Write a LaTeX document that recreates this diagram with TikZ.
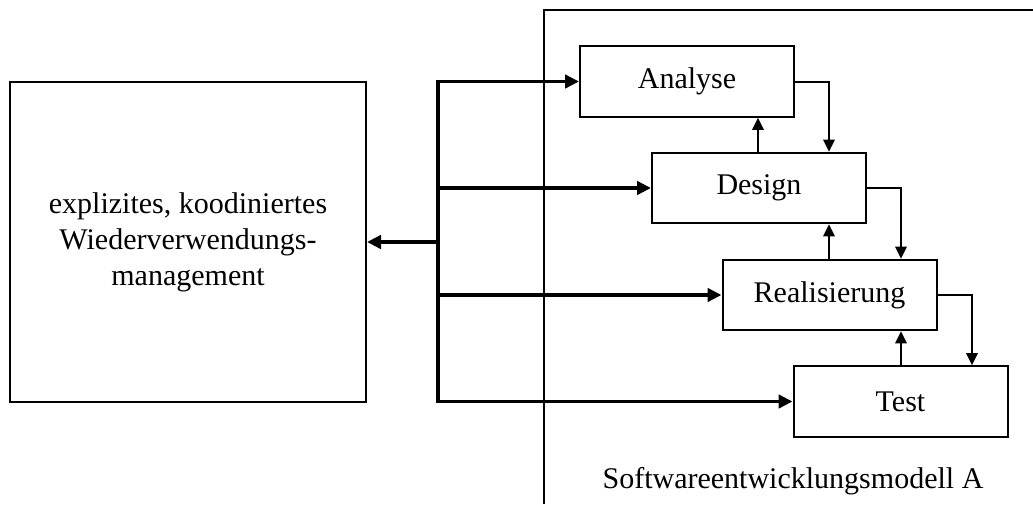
\documentclass[tikz,border=0pt]{standalone}
\usepackage{fontspec}
\setmainfont{Liberation Serif}
\usetikzlibrary{arrows.meta}
\begin{document}
\begin{tikzpicture}[x=0.75pt,y=-0.75pt,
  every node/.style={font=\fontsize{22.5}{27}\selectfont},
  phase/.style={draw,line width=1.5pt,minimum width=160.5pt,minimum height=53pt,inner sep=0pt},
  bigbox/.style={draw,line width=1.5pt,minimum width=267pt,minimum height=240pt,inner sep=0pt,align=center},
  thick arrow/.style={line width=2.6pt,-{Triangle[length=10.5pt,width=10pt]}},
  thin arrow/.style={line width=1.5pt,-{Triangle[length=9pt,width=8.5pt]}},
  frame/.style={line width=1.5pt}]
\useasboundingbox (0,0) rectangle (1033,504);
\draw[frame] (544,504) -- (544,10) -- (1040,10);
\node[bigbox] (wm) at (188,242) {explizites, koodiniertes\\Wiederverwendungs-\\management};
\node[phase] (an) at (687,81.5) {Analyse};
\node[phase] (de) at (759,188) {Design};
\node[phase] (re) at (829.5,295) {Realisierung};
\node[phase] (te) at (900.5,401.5) {Test};
\node[anchor=base] (lab) at (793,488) {Softwareentwicklungsmodell A};
\coordinate (bt) at (438,81.5);
\coordinate (bb) at (438,401.5);
\coordinate (bm) at (438,242);
\coordinate (bd) at (438,188);
\coordinate (br) at (438,295);
\draw[line width=2.6pt,line cap=rect] (bt) -- (bb);
\draw[thick arrow] (bt) -- (an.west);
\draw[thick arrow] (bd) -- (de.west);
\draw[thick arrow] (br) -- (re.west);
\draw[thick arrow] (bb) -- (te.west);
\draw[thick arrow] (bm) -- (wm.east);
\draw[thin arrow] (an.east) -| (829,0 |- de.north);
\draw[thin arrow] (de.east) -| (901,0 |- re.north);
\draw[thin arrow] (re.east) -| (972,0 |- te.north);
\draw[thin arrow] (758,0 |- de.north) -- (758,0 |- an.south);
\draw[thin arrow] (829,0 |- re.north) -- (829,0 |- de.south);
\draw[thin arrow] (901,0 |- te.north) -- (901,0 |- re.south);
\end{tikzpicture}
\end{document}
